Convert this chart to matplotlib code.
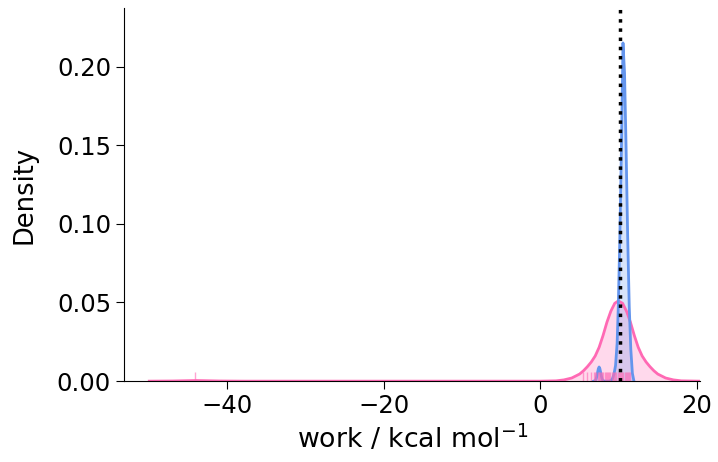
import matplotlib
matplotlib.use('Agg')
import matplotlib.pyplot as plt
import seaborn as sns

# density curves (x in kcal/mol, y = density)
pink_x = [-50, -47, -45, -44, -43, -41, -38, -30, 0, 2, 3, 4, 5, 5.5, 6, 6.5, 7, 7.5, 8, 8.5,
          9, 9.5, 9.95, 10.5, 11, 11.5, 12, 12.5, 13, 13.5, 14, 14.5, 15, 16, 17, 18, 20.3]
pink_y = [0, 0.0001, 0.0003, 0.0004, 0.0003, 0.0001, 0, 0, 0, 0.0002, 0.0008, 0.002, 0.0045,
          0.0066, 0.0092, 0.0122, 0.016, 0.0215, 0.029, 0.0375, 0.0445, 0.0495, 0.051, 0.0495,
          0.0445, 0.0375, 0.029, 0.0215, 0.016, 0.0122, 0.0092, 0.0066, 0.0045, 0.002, 0.0008,
          0.0002, 0]

blue_x = [6.8, 7.0, 7.1, 7.2, 7.3, 7.4, 7.5, 7.6, 7.7, 7.8, 7.9, 8.0, 8.2, 8.8, 9.0, 9.2, 9.4,
          9.6, 9.8, 9.95, 10.15, 10.35, 10.55, 10.75, 10.95, 11.15, 11.35, 11.55, 11.75, 11.95]
blue_y = [0, 0.0004, 0.0012, 0.0029, 0.0055, 0.0079, 0.009, 0.0079, 0.0055, 0.0029, 0.0012,
          0.0004, 0, 0, 0.0004, 0.0015, 0.0045, 0.0100, 0.0240, 0.0474, 0.0919, 0.1473, 0.215,
          0.1957, 0.1473, 0.0919, 0.0474, 0.0202, 0.0050, 0]

# individual pink work values shown as rug
pink_work = [-44.1, 5.4, 5.9, 6.4, 6.9, 7.0, 7.15, 7.3, 7.45, 7.6, 7.75, 7.9, 8.05, 8.2, 8.35,
             8.5, 8.65, 8.8, 8.95, 9.1, 9.25, 9.4, 9.55, 9.7, 9.85, 10.0, 10.15, 10.3, 10.45,
             10.6, 10.75, 10.9, 11.05, 11.2, 11.35, 11.5]

ref_work = 10.22

pink = 'hotpink'
blue = 'cornflowerblue'

fig = plt.figure(figsize=(7.18, 4.62), dpi=100)
ax = fig.add_axes([0.173, 0.175, 0.802, 0.807])

ax.fill_between(pink_x, pink_y, color=pink, alpha=0.25, linewidth=0)
ax.plot(pink_x, pink_y, color=pink, lw=2)
ax.fill_between(blue_x, blue_y, color=blue, alpha=0.25, linewidth=0)
ax.plot(blue_x, blue_y, color=blue, lw=2)
sns.rugplot(x=pink_work, ax=ax, color=pink, alpha=0.6, height=0.025, lw=2)
ax.axvline(ref_work, color='black', ls=':', lw=2.5)

ax.set_xlim(-53.2, 20.4)
ax.set_ylim(0, 0.237)
ax.set_xticks([-40, -20, 0, 20])
ax.set_yticks([0, 0.05, 0.10, 0.15, 0.20])
ax.set_xlabel(r'work / kcal mol$^{-1}$', fontsize=19.3)
ax.set_ylabel('Density', fontsize=18.5, labelpad=14)
ax.tick_params(axis='both', which='major', labelsize=17.5, length=6)
sns.despine(ax=ax)

fig.savefig('out.png', dpi=100)
